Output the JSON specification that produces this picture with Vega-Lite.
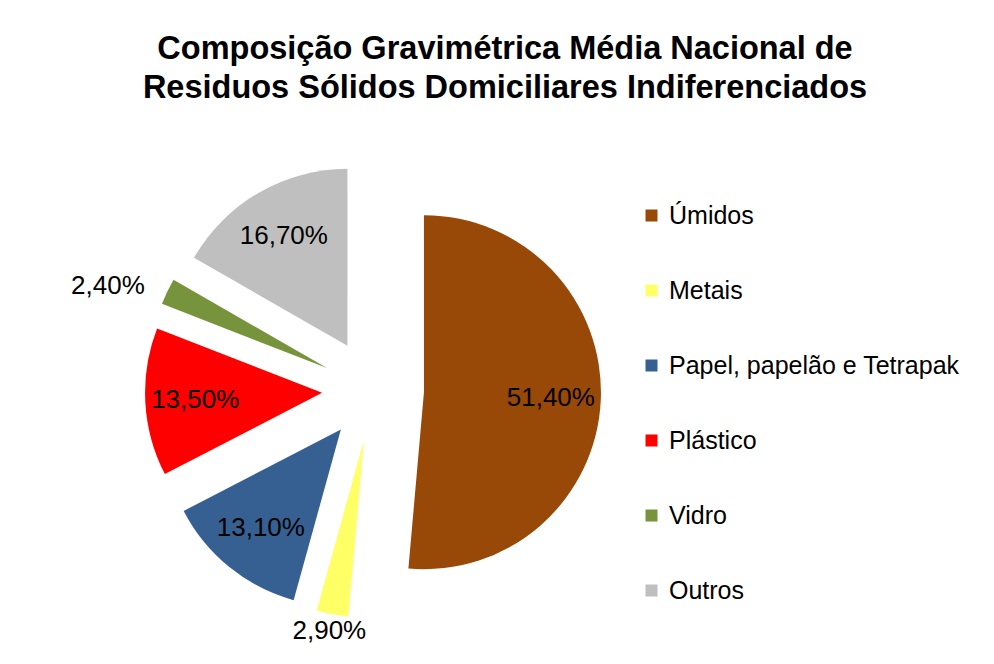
{
  "$schema": "https://vega.github.io/schema/vega-lite/v6.json",
  "width": 560,
  "height": 520,
  "autosize": "none",
  "padding": {"left": 93, "top": 130, "right": 341, "bottom": 14},
  "background": "white",
  "title": {
    "text": ["Composição Gravimétrica Média Nacional de", "Residuos Sólidos Domiciliares Indiferenciados"],
    "font": "Liberation Sans",
    "fontSize": 32.5,
    "fontWeight": "bold",
    "color": "black",
    "anchor": "middle",
    "frame": "group",
    "dx": 132,
    "offset": 26,
    "lineHeight": 39
  },
  "data": {
    "values": [
      {"categoria": "Úmidos", "pct": 51.4, "rotulo": "51,40%", "ordem": 1},
      {"categoria": "Metais", "pct": 2.9, "rotulo": "2,90%", "ordem": 2},
      {"categoria": "Papel, papelão e Tetrapak", "pct": 13.1, "rotulo": "13,10%", "ordem": 3},
      {"categoria": "Plástico", "pct": 13.5, "rotulo": "13,50%", "ordem": 4},
      {"categoria": "Vidro", "pct": 2.4, "rotulo": "2,40%", "ordem": 5},
      {"categoria": "Outros", "pct": 16.7, "rotulo": "16,70%", "ordem": 6}
    ]
  },
  "encoding": {
    "theta": {"field": "pct", "type": "quantitative", "stack": true},
    "order": {"field": "ordem", "type": "quantitative"}
  },
  "layer": [
    {
      "mark": {
        "type": "arc",
        "outerRadius": 177,
        "stroke": null,
        "xOffset": {"expr": "51*sin((scale('theta', datum.pct_start)+scale('theta', datum.pct_end))/2)"},
        "yOffset": {"expr": "-51*cos((scale('theta', datum.pct_start)+scale('theta', datum.pct_end))/2)"}
      },
      "encoding": {
        "color": {
          "field": "categoria",
          "type": "nominal",
          "sort": ["Úmidos", "Metais", "Papel, papelão e Tetrapak", "Plástico", "Vidro", "Outros"],
          "scale": {
            "domain": ["Úmidos", "Metais", "Papel, papelão e Tetrapak", "Plástico", "Vidro", "Outros"],
            "range": ["#984807", "#FFFF66", "#376092", "#FF0000", "#77933C", "#BFBFBF"]
          },
          "legend": {
            "title": null,
            "orient": "none",
            "legendX": 546,
            "legendY": 73,
            "symbolType": "square",
            "symbolSize": 144,
            "symbolStrokeWidth": 0,
            "labelFont": "Liberation Sans",
            "labelFontSize": 25,
            "labelColor": "black",
            "labelOffset": 5,
            "labelLimit": 400,
            "rowPadding": 49,
            "padding": 0
          }
        }
      }
    },
    {
      "mark": {
        "type": "text",
        "font": "Liberation Sans",
        "fontSize": 26,
        "color": "black",
        "align": "center",
        "baseline": "middle",
        "radius": {"expr": "datum.pct < 2.5 ? 285 : datum.pct < 5 ? 245 : 178"},
        "dx": {"expr": "datum.pct < 2.5 ? -8 : 0"},
        "dy": {"expr": "datum.pct < 2.5 ? 19 : 0"}
      },
      "encoding": {
        "text": {"field": "rotulo", "type": "nominal"}
      }
    }
  ]
}
